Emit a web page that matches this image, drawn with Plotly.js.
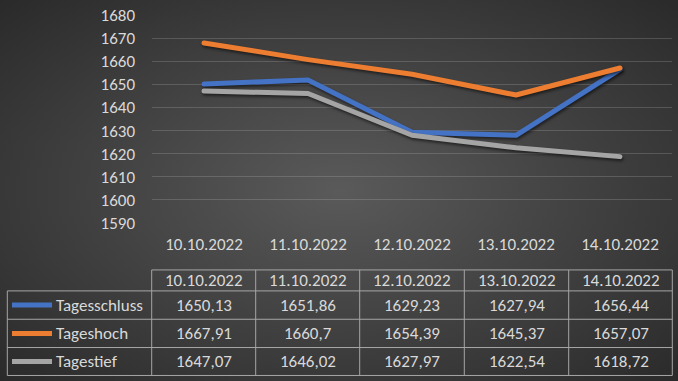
<!DOCTYPE html>
<html>
<head>
<meta charset="utf-8">
<script src="https://cdn.plot.ly/plotly-3.0.1.min.js"></script>
<style>
  html, body { margin: 0; padding: 0; }
  body { width: 678px; height: 381px; overflow: hidden;
    background: radial-gradient(ellipse at 50% 50%, #5a5a5a 0%, #444 45%, #2a2a2a 100%); }
  #chart { width: 678px; height: 381px; }
  .scatterlayer path.js-line { stroke-linecap: round; stroke-linejoin: round;
    filter: drop-shadow(1px 2px 1.5px rgba(0,0,0,0.55)); }
  .shapelayer path.legkey { stroke-linecap: round; }
</style>
</head>
<body>
<div id="chart"></div>
<script>
// ---- data ----
const categories = ["10.10.2022", "11.10.2022", "12.10.2022", "13.10.2022", "14.10.2022"];
const seriesNames = ["Tagesschluss", "Tageshoch", "Tagestief"];
const tagesschluss = [1650.13, 1651.86, 1629.23, 1627.94, 1656.44];
const tageshoch = [1667.91, 1660.7, 1654.39, 1645.37, 1657.07];
const tagestief = [1647.07, 1646.02, 1627.97, 1622.54, 1618.72];
const yTicks = [1590, 1600, 1610, 1620, 1630, 1640, 1650, 1660, 1670, 1680];

// ---- styling / layout constants ----
const W = 678, H = 381;
const plotL = 152, plotR = 672, plotT = 15, plotB = 223.3;
const colors = ["#4472C4", "#ED7D31", "#A5A5A5"];
const textColor = "#d9d9d9";
const fontFam = "Carlito, Lato, 'Open Sans', sans-serif";
const fs = 17;
const values = [tagesschluss, tageshoch, tagestief];

const px = x => (x - plotL) / (plotR - plotL);
const py = y => (plotB - y) / (plotB - plotT);

const traces = values.map((v, i) => ({
  type: "scatter", mode: "lines", x: categories, y: v, name: seriesNames[i],
  line: { color: colors[i], width: 5 }, hoverinfo: "skip", cliponaxis: false
}));

// table geometry (pixels)
const tblLeft = 7.3;
const colEdges = [151.7, 255.7, 359.7, 464.3, 568.7, 672.3];
const rowEdges = [270.3, 291.3, 319.7, 348, 376];
const lineCol = "#a6a6a6";

const shapes = [];
const hline = (x0, x1, y) => shapes.push({ type: "line", xref: "paper", yref: "paper",
  x0: px(x0), x1: px(x1), y0: py(y), y1: py(y), line: { color: lineCol, width: 1 } });
const vline = (x, y0, y1) => shapes.push({ type: "line", xref: "paper", yref: "paper",
  x0: px(x), x1: px(x), y0: py(y0), y1: py(y1), line: { color: lineCol, width: 1 } });

hline(colEdges[0], colEdges[5], rowEdges[0]);
for (let r = 1; r < rowEdges.length; r++) hline(tblLeft, colEdges[5], rowEdges[r]);
colEdges.forEach(x => vline(x, rowEdges[0], rowEdges[4]));
vline(tblLeft, rowEdges[1], rowEdges[4]);

// legend keys
seriesNames.forEach((n, i) => {
  const yc = (rowEdges[i + 1] + rowEdges[i + 2]) / 2;
  shapes.push({ type: "line", xref: "paper", yref: "paper", name: "legkey",
    x0: px(12), x1: px(52), y0: py(yc), y1: py(yc),
    line: { color: colors[i], width: 5 } });
});

const annotations = [];
const fmt = v => String(v).replace(".", ",");
categories.forEach((c, j) => {
  const xc = (colEdges[j] + colEdges[j + 1]) / 2;
  annotations.push({ xref: "paper", yref: "paper", x: px(xc), y: py((rowEdges[0] + rowEdges[1]) / 2),
    text: c, showarrow: false, xanchor: "center", yanchor: "middle",
    font: { family: fontFam, size: fs, color: textColor } });
  values.forEach((v, i) => {
    annotations.push({ xref: "paper", yref: "paper", x: px(xc), y: py((rowEdges[i + 1] + rowEdges[i + 2]) / 2),
      text: fmt(v[j]), showarrow: false, xanchor: "center", yanchor: "middle",
      font: { family: fontFam, size: fs, color: textColor } });
  });
});
seriesNames.forEach((n, i) => {
  annotations.push({ xref: "paper", yref: "paper", x: px(54), y: py((rowEdges[i + 1] + rowEdges[i + 2]) / 2),
    text: n, showarrow: false, xanchor: "left", yanchor: "middle",
    font: { family: fontFam, size: fs, color: textColor } });
});

const layout = {
  width: W, height: H,
  margin: { l: plotL, r: W - plotR, t: plotT, b: H - plotB },
  paper_bgcolor: "rgba(0,0,0,0)", plot_bgcolor: "rgba(0,0,0,0)",
  showlegend: false,
  font: { family: fontFam, size: fs, color: textColor },
  xaxis: { type: "category", range: [-0.5, 4.5], showgrid: false, zeroline: false, showline: false,
    ticks: "", ticklabelstandoff: 9, tickfont: { family: fontFam, size: fs, color: textColor },
    fixedrange: true },
  yaxis: { range: [1590, 1680], tickvals: yTicks, ticktext: yTicks.map(String),
    showgrid: true, gridcolor: "rgba(200,200,200,0.22)", gridwidth: 1, zeroline: false,
    showline: false, ticks: "", ticklabelstandoff: 16,
    tickfont: { family: fontFam, size: fs, color: textColor }, fixedrange: true },
  shapes: shapes,
  annotations: annotations
};

Plotly.newPlot("chart", traces, layout, { staticPlot: true, displayModeBar: false }).then(() => {
  document.querySelectorAll(".shapelayer path").forEach(p => {
    if (p.getAttribute("stroke-width") === "5") p.classList.add("legkey");
  });
});
</script>
</body>
</html>
